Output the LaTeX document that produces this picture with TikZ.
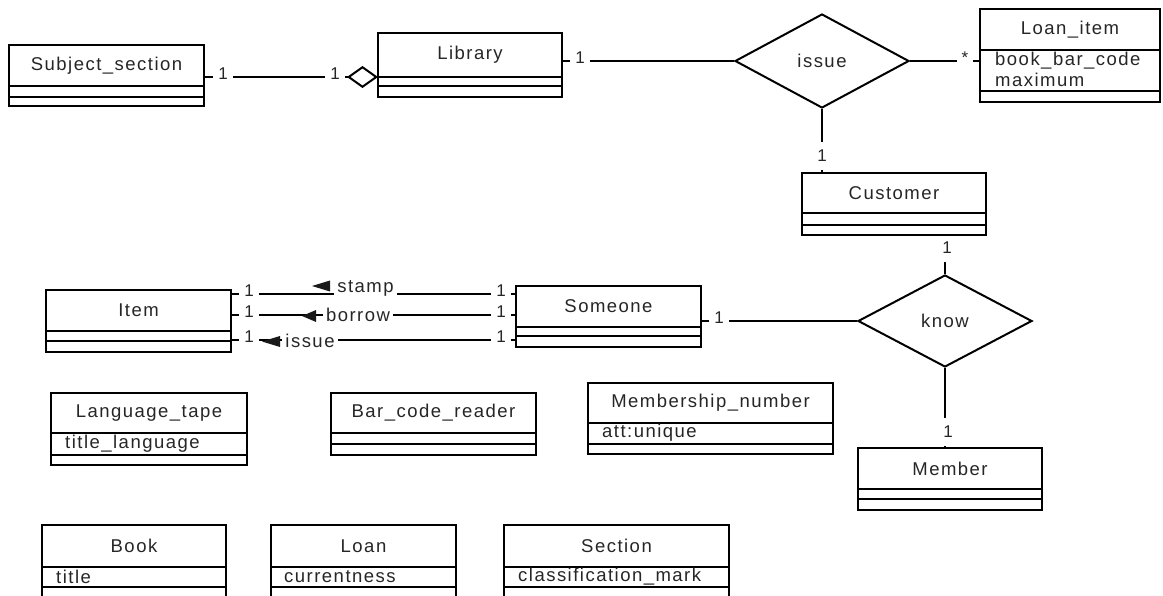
\documentclass[tikz,border=0pt]{standalone}
\usepackage{fontspec}
\setmainfont{Liberation Sans}[LetterSpace=8]
\newfontfamily\labfont{Liberation Sans}
\usetikzlibrary{shapes.geometric,arrows.meta,fit}
\pgfdeclarelayer{bg}
\pgfsetlayers{bg,main}
\tikzset{
  clsbox/.style={draw, inner sep=0pt, line width=2pt},
  boxline/.style={line width=2pt},
  ttl/.style={inner sep=0pt, text=black!85, font=\fontsize{18.5}{21}\selectfont},
  attr/.style={anchor=west, inner sep=0pt, text=black!85, font=\fontsize{18.5}{21}\selectfont},
  rel/.style={diamond, draw, line width=2pt, inner sep=0pt, aspect=1.85, text=black!85, font=\fontsize{18.5}{21}\selectfont},
  conn/.style={line width=2pt},
  mult/.style={fill=white, inner xsep=5pt, inner ysep=5pt, text=black!85, font=\labfont\fontsize{17}{19}\selectfont},
  multv/.style={fill=white, inner xsep=4pt, inner ysep=8pt, text=black!85, font=\labfont\fontsize{17}{19}\selectfont},
  onlab/.style={fill=white, inner xsep=3pt, inner ysep=3pt, text=black!85, font=\fontsize{18.5}{21}\selectfont},
  tri/.style={fill=black!90},
}
% #1 name, #2 x1, #3 y1, #4 x2, #5 divider 1, #6 divider 2, #7 y2, #8 title
\newcommand\umlcls[8]{%
  \coordinate (#1nw) at (#2,#3);
  \coordinate (#1se) at (#4,#7);
  \coordinate (#1d) at (#2,#5);
  \node[clsbox, fit=(#1nw)(#1se)] (#1) {};
  \draw[boxline] (#2,#5) -- (#4,#5);
  \draw[boxline] (#2,#6) -- (#4,#6);
  \node[ttl] (#1t) at ({(#2+#4)/2},{(#3+#5)/2}) {#8};
}
\newcommand\umlattr[4]{\node[attr] (#1) at (#2,#3) {#4};}
\begin{document}
\begin{tikzpicture}[x=1pt,y=-1pt]
\useasboundingbox (0,0) rectangle (1163,596);
\clip (0,0) rectangle (1163,596);

% classes
\umlcls{subj}{9}{45}{204}{86}{97}{106}{Subject\_section}
\umlcls{lib}{378}{33}{562}{77}{86}{97}{Library}
\umlcls{loanit}{980}{9}{1160}{50}{91}{102}{Loan\_item}
\umlattr{la1}{995}{61}{book\_bar\_code}
\umlattr{la2}{995}{80}{maximum}
\umlcls{cust}{802}{173}{986}{213}{225}{235}{Customer}
\umlcls{item}{46}{290}{231}{331}{341}{352}{Item}
\umlcls{someone}{516}{286}{701}{327}{336}{347}{Someone}
\umlcls{member}{858}{448}{1042}{489}{499}{510}{Member}
\umlcls{langtape}{51}{393}{247}{433}{455}{465}{Language\_tape}
\umlattr{lta}{65}{444}{title\_language}
\umlcls{barcode}{331}{393}{536}{433}{444}{455}{Bar\_code\_reader}
\umlcls{memnum}{588}{383}{833}{423}{444}{454}{Membership\_number}
\umlattr{mna}{602}{433}{att:unique}
\umlcls{book}{42}{525}{226}{567}{587}{612}{Book}
\umlattr{ba}{56}{577}{title}
\umlcls{loan}{271}{525}{456}{567}{587}{612}{Loan}
\umlattr{loa}{284}{577}{currentness}
\umlcls{section}{504}{525}{729}{567}{587}{612}{Section}
\umlattr{sa}{518}{577}{classification\_mark}

% relationship diamonds
\node[rel, minimum width=174pt, minimum height=94pt] (issue) at (822,61) {issue};
\node[rel, minimum width=174pt, minimum height=92pt] (know) at (945,321) {know};

\begin{pgfonlayer}{bg}
\fill[white] (0,0) rectangle (1163,596);
% Subject_section -- Library (aggregation)
\draw[conn, -{Diamond[open, length=31pt, width=22pt]}] (subj.east |- libd) -- (libd)
  node[mult, pos=0, xshift=18pt, yshift=3pt] {1}
  node[mult, pos=1, xshift=-43pt, yshift=3pt] {1};
% Library -- issue
\draw[conn] (lib.east |- issue.west) -- (issue.west)
  node[mult, pos=0, xshift=17pt, yshift=3pt] {1};
% issue -- Loan_item
\draw[conn] (issue.east) -- (issue.east -| loanit.west)
  node[mult, pos=1, xshift=-14pt, yshift=3pt] {*};
% issue -- Customer
\draw[conn] (issue.south) -- (issue.south |- cust.north)
  node[multv, pos=1, yshift=16pt] {1};
% Customer -- know
\draw[conn] (know.north |- cust.south) -- (know.north)
  node[multv, pos=0, yshift=-12pt, xshift=2pt] {1};
% Someone -- know
\draw[conn] (know.west -| someone.east) -- (know.west)
  node[mult, pos=0, xshift=17pt, yshift=3pt] {1};
% know -- Member
\draw[conn] (know.south) -- (know.south |- member.north)
  node[multv, pos=1, yshift=15pt, xshift=3pt] {1};
% Item -- Someone : stamp, borrow, issue
\draw[conn] ([yshift=-5pt]item.north east) -- ([yshift=-9pt]someone.north west)
  node[mult, pos=0, xshift=17pt, yshift=3pt] {1}
  node[mult, pos=1, xshift=-14pt, yshift=3pt] {1};
\draw[conn] ([yshift=-26pt]item.north east) -- ([yshift=-30pt]someone.north west)
  node[mult, pos=0, xshift=17pt, yshift=3pt] {1}
  node[mult, pos=1, xshift=-14pt, yshift=3pt] {1};
\draw[conn] ([yshift=-51pt]item.north east) -- ([yshift=-55pt]someone.north west)
  node[mult, pos=0, xshift=17pt, yshift=3pt] {1}
  node[mult, pos=1, xshift=-14pt, yshift=3pt] {1};
\node[onlab] (stampl) at (365.5,288) {stamp};
\node[onlab] (borrowl) at (358,315) {borrow};
\node[onlab] (issuel) at (310,341) {issue};
\fill[tri] (312,286) -- (330,280.5) -- (330,291.5) -- cycle;
\fill[tri] (302,316) -- (316,310) -- (316,322) -- cycle;
\fill[tri] (262,341.5) -- (280,336) -- (280,347) -- cycle;
\end{pgfonlayer}
\end{tikzpicture}
\end{document}
